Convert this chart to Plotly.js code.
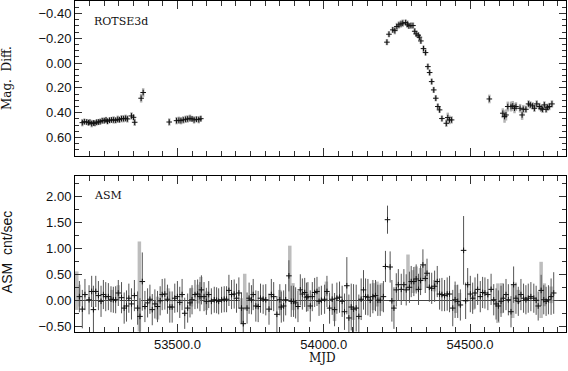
<!DOCTYPE html>
<html>
<head>
<meta charset="utf-8">
<script src="https://cdn.plot.ly/plotly-3.0.1.min.js"></script>
<style>
  html, body { margin: 0; padding: 0; background: #fff; }
  #chart { width: 568px; height: 371px; }
</style>
</head>
<body>
<div id="chart"></div>
<script>
// ROTSE3d light curve (magnitude difference, brighter = up)
const rotseMjd = [
  53175, 53182, 53190, 53196, 53201, 53207, 53213, 53218, 53224, 53230,
  53236, 53243, 53250, 53256, 53261, 53268, 53275, 53282, 53289, 53296,
  53302, 53309, 53316, 53323, 53329, 53343, 53350, 53354, 53376, 53383,
  53472, 53497, 53505, 53512, 53520, 53528, 53535, 53543, 53550, 53557,
  53565, 53573, 53580,
  54216, 54223, 54236, 54243, 54250, 54257, 54264, 54270, 54280, 54286,
  54291, 54298, 54305, 54311, 54316, 54323, 54327, 54332, 54341, 54348,
  54356, 54362, 54369, 54376, 54383, 54390, 54396, 54404, 54419, 54424,
  54430, 54437,
  54566, 54612, 54618, 54623, 54629, 54640, 54646, 54652, 54657, 54671,
  54678, 54682, 54691, 54700, 54706, 54714, 54720, 54728, 54737, 54743,
  54748, 54754, 54760, 54765, 54771, 54780
];
const rotseMag = [
  0.481, 0.473, 0.476, 0.481, 0.478, 0.489, 0.484, 0.486, 0.478, 0.476,
  0.473, 0.465, 0.465, 0.459, 0.470, 0.462, 0.459, 0.459, 0.462, 0.454,
  0.457, 0.449, 0.449, 0.446, 0.451, 0.427, 0.438, 0.478, 0.284, 0.238,
  0.476, 0.465, 0.462, 0.465, 0.459, 0.454, 0.451, 0.446, 0.451, 0.459,
  0.454, 0.457, 0.449,
  -0.168, -0.232, -0.267, -0.261, -0.294, -0.307, -0.315, -0.321, -0.326, -0.313,
  -0.299, -0.302, -0.302, -0.256, -0.235, -0.224, -0.208, -0.178, -0.116, -0.084,
  0.029, 0.077, 0.150, 0.217, 0.284, 0.351, 0.378, 0.448, 0.486, 0.440,
  0.459, 0.459,
  0.290, 0.405, 0.432, 0.419, 0.351, 0.351, 0.346, 0.365, 0.351, 0.365,
  0.419, 0.373, 0.373, 0.330, 0.338, 0.346, 0.365, 0.330, 0.351, 0.365,
  0.373, 0.338, 0.373, 0.357, 0.351, 0.330
];
const rotseErr = [
  0.030, 0.025, 0.025, 0.025, 0.025, 0.030, 0.025, 0.025, 0.025, 0.025,
  0.025, 0.025, 0.025, 0.025, 0.025, 0.025, 0.025, 0.030, 0.025, 0.030,
  0.025, 0.030, 0.030, 0.030, 0.030, 0.030, 0.025, 0.030, 0.035, 0.035,
  0.030, 0.030, 0.030, 0.030, 0.030, 0.030, 0.030, 0.030, 0.025, 0.030,
  0.025, 0.030, 0.025,
  0.025, 0.025, 0.025, 0.030, 0.030, 0.030, 0.030, 0.030, 0.025, 0.030,
  0.025, 0.025, 0.025, 0.025, 0.025, 0.025, 0.025, 0.025, 0.025, 0.025,
  0.025, 0.025, 0.025, 0.025, 0.025, 0.025, 0.025, 0.025, 0.030, 0.040,
  0.035, 0.030,
  0.035, 0.040, 0.050, 0.045, 0.040, 0.040, 0.040, 0.040, 0.035, 0.035,
  0.040, 0.035, 0.030, 0.030, 0.030, 0.030, 0.030, 0.030, 0.030, 0.030,
  0.030, 0.030, 0.030, 0.030, 0.030, 0.030
];

// RXTE/ASM count rate, main points with thin error bars
const asmMjd = [
  53165, 53175, 53184, 53198, 53207, 53213, 53221, 53230, 53239, 53247,
  53255, 53264, 53273, 53281, 53289, 53298, 53309, 53318, 53326, 53334,
  53343, 53353, 53364, 53372, 53380, 53389, 53398, 53406, 53414, 53423,
  53432, 53441, 53448, 53457, 53466, 53474, 53482, 53491, 53500, 53508,
  53516, 53525, 53535, 53543, 53550, 53560, 53569, 53577, 53582, 53591,
  53599, 53607, 53616, 53626, 53634, 53641, 53651, 53660, 53668, 53676,
  53685, 53694, 53702, 53710, 53719, 53725,
  53738, 53745, 53753, 53759, 53768, 53776, 53784, 53793, 53802, 53813,
  53821, 53829, 53840, 53850, 53855, 53863, 53870, 53881, 53889, 53897,
  53904, 53912, 53920, 53927, 53935, 53941, 53946, 53954, 53961, 53969,
  53977, 53984, 53992, 54003, 54011, 54020, 54029, 54037, 54045, 54054,
  54063, 54071, 54079, 54086, 54094, 54102, 54111, 54120, 54128, 54136,
  54143, 54151, 54159, 54168, 54177, 54185, 54193, 54204, 54211, 54218,
  54227, 54233, 54240, 54248, 54255,
  54265, 54274, 54282, 54293, 54299, 54308, 54316, 54324, 54331, 54339,
  54347, 54353, 54361, 54369, 54379, 54388, 54396, 54404, 54413, 54422,
  54430, 54441, 54449, 54458, 54467, 54478, 54485, 54492, 54501, 54509,
  54517, 54526, 54535, 54543, 54551, 54561, 54572, 54581, 54589, 54597,
  54606, 54614, 54623, 54631, 54640, 54649, 54657, 54665, 54674, 54683,
  54691, 54699, 54708, 54718, 54726, 54733, 54743, 54752, 54760, 54768,
  54777, 54786
];
const asmRate = [
  0.08, -0.16, 0.12, 0.02, 0.18, -0.17, 0.18, 0.10, -0.01, 0.12,
  0.08, 0.08, 0.03, 0.02, 0.02, 0.15, 0.06, -0.14, -0.10, 0.05,
  -0.06, 0.10, -0.14, -0.30, 0.37, -0.11, -0.04, 0.03, -0.17, -0.06,
  -0.11, 0.00, 0.12, 0.13, 0.03, -0.12, -0.12, 0.05, 0.08, -0.03,
  0.12, -0.24, -0.14, -0.04, 0.02, 0.12, 0.13, 0.08, 0.21, 0.08,
  -0.01, 0.12, -0.01, 0.02, 0.01, -0.01, 0.02, 0.03, 0.03, 0.20,
  0.12, 0.13, 0.05, 0.15, -0.14, -0.44,
  -0.14, 0.05, 0.02, 0.12, -0.10, -0.11, 0.05, 0.03, 0.02, -0.16,
  0.12, 0.08, -0.26, 0.02, -0.12, -0.10, 0.02, 0.48, -0.01, -0.01,
  -0.04, -0.11, 0.21, 0.13, 0.16, 0.07, 0.08, -0.10, 0.08, 0.16,
  0.18, -0.01, 0.01, 0.03, 0.18, -0.14, 0.03, -0.17, 0.05, 0.07,
  -0.01, -0.21, 0.29, -0.33, -0.12, -0.16, -0.14, -0.30, 0.03, 0.21,
  0.08, 0.07, 0.01, 0.08, 0.10, 0.01, 0.01, 0.08, 0.66, 1.56,
  0.65, 0.00, -0.14, 0.21, 0.31,
  0.22, 0.31, 0.21, 0.26, 0.37, 0.37, 0.42, 0.22, 0.39, 0.69,
  0.43, 0.53, 0.26, 0.24, 0.28, 0.37, 0.13, 0.12, 0.10, 0.13,
  0.13, -0.14, 0.02, -0.01, -0.08, 0.97, 0.00, 0.31, 0.13, 0.05,
  0.15, 0.22, 0.08, 0.16, 0.15, 0.12, 0.22, 0.02, -0.06, -0.10,
  -0.01, 0.05, 0.12, 0.02, -0.21, 0.31, 0.05, -0.01, 0.12, 0.05,
  0.02, 0.05, 0.08, 0.05, 0.01, -0.10, 0.20, 0.02, -0.01, 0.02,
  0.08, 0.15
];
const asmErr = [
  0.30, 0.37, 0.30, 0.28, 0.30, 0.46, 0.30, 0.28, 0.30, 0.28,
  0.28, 0.26, 0.25, 0.25, 0.26, 0.25, 0.30, 0.30, 0.30, 0.28,
  0.30, 0.30, 0.32, 0.35, 0.56, 0.30, 0.28, 0.28, 0.30, 0.28,
  0.30, 0.28, 0.30, 0.30, 0.28, 0.30, 0.30, 0.28, 0.30, 0.30,
  0.30, 0.30, 0.28, 0.28, 0.28, 0.28, 0.28, 0.28, 0.28, 0.28,
  0.26, 0.26, 0.25, 0.25, 0.25, 0.25, 0.25, 0.25, 0.25, 0.30,
  0.28, 0.28, 0.28, 0.30, 0.30, 0.30,
  0.30, 0.30, 0.28, 0.30, 0.30, 0.30, 0.28, 0.28, 0.30, 0.30,
  0.30, 0.28, 0.35, 0.30, 0.30, 0.30, 0.30, 0.30, 0.30, 0.30,
  0.30, 0.30, 0.30, 0.30, 0.28, 0.28, 0.28, 0.30, 0.28, 0.28,
  0.28, 0.28, 0.28, 0.28, 0.30, 0.30, 0.30, 0.32, 0.30, 0.30,
  0.30, 0.35, 0.55, 0.45, 0.45, 0.48, 0.45, 0.42, 0.40, 0.38,
  0.35, 0.35, 0.32, 0.32, 0.30, 0.30, 0.30, 0.30, 0.30, 0.27,
  0.30, 0.40, 0.40, 0.32, 0.30,
  0.30, 0.30, 0.30, 0.30, 0.30, 0.28, 0.28, 0.30, 0.28, 0.30,
  0.28, 0.28, 0.28, 0.30, 0.30, 0.30, 0.30, 0.32, 0.30, 0.32,
  0.35, 0.35, 0.35, 0.32, 0.30, 0.66, 0.35, 0.32, 0.35, 0.30,
  0.30, 0.30, 0.30, 0.30, 0.30, 0.30, 0.30, 0.30, 0.30, 0.30,
  0.30, 0.28, 0.30, 0.30, 0.30, 0.35, 0.30, 0.28, 0.30, 0.28,
  0.28, 0.28, 0.28, 0.28, 0.28, 0.28, 0.30, 0.28, 0.28, 0.28,
  0.35, 0.40
];

// ASM secondary points drawn as broad light grey bars
const asmGreyMjd = [
  53156, 53164, 53277, 53298, 53370, 53432, 53469, 53548, 53571, 53580,
  53599, 53719, 53730, 53850, 53884, 53895, 54009, 54037, 54100, 54170,
  54182, 54197, 54288, 54305, 54316, 54331, 54379, 54452, 54464, 54512,
  54595, 54608, 54646, 54665, 54743, 54754, 54777
];
const asmGreyRate = [
  0.195, 0.10, 0.10, 0.15, 0.276, -0.14, 0.13, 0.07, 0.13, 0.24,
  0.00, -0.19, 0.17, 0.02, 0.54, 0.08, 0.23, -0.17, -0.24, 0.08,
  0.13, 0.07, 0.55, 0.37, 0.42, 0.42, 0.29, 0.035, 0.02, -0.03,
  -0.045, 0.05, -0.01, 0.08, 0.21, 0.115, 0.115
];
const asmGreyErr = [
  0.37, 0.21, 0.11, 0.15, 0.865, 0.22, 0.11, 0.18, 0.18, 0.22,
  0.18, 0.24, 0.35, 0.19, 0.52, 0.26, 0.14, 0.22, 0.13, 0.26,
  0.24, 0.27, 0.34, 0.22, 0.24, 0.21, 0.11, 0.27, 0.13, 0.14,
  0.38, 0.29, 0.32, 0.13, 0.54, 0.22, 0.16
];

const xRange = [53150, 54828];
const sans = 'Liberation Sans, Arial, sans-serif';
const serif = 'DejaVu Serif, Liberation Serif, serif';

const data = [
  {
    type: 'scatter', mode: 'markers', xaxis: 'x2', yaxis: 'y2',
    x: rotseMjd, y: rotseMag,
    error_y: { type: 'data', array: rotseErr, color: '#b4b4b4', thickness: 2.5, width: 0 },
    marker: { symbol: 'cross-thin', size: 4, line: { width: 1, color: '#111' }, color: '#111' },
    hoverinfo: 'x+y'
  },
  {
    type: 'scatter', mode: 'markers', xaxis: 'x', yaxis: 'y',
    x: asmGreyMjd, y: asmGreyRate,
    error_y: { type: 'data', array: asmGreyErr, color: '#bdbdbd', thickness: 3.5, width: 0 },
    marker: { size: 1, color: 'rgba(0,0,0,0)' },
    hoverinfo: 'x+y'
  },
  {
    type: 'scatter', mode: 'markers', xaxis: 'x', yaxis: 'y',
    x: asmMjd, y: asmRate,
    error_y: { type: 'data', array: asmErr, color: '#555555', thickness: 1, width: 0 },
    marker: { symbol: 'cross-thin', size: 4, line: { width: 1, color: '#111' }, color: '#111' },
    hoverinfo: 'x+y'
  }
];

const tickFont = { family: sans, size: 13, color: '#111' };
const common = {
  showline: true, linecolor: '#000', linewidth: 1, mirror: 'allticks',
  ticks: 'inside', tickcolor: '#333', tickwidth: 1, showgrid: false,
  tickfont: tickFont
};

const layout = {
  width: 568, height: 371,
  margin: { l: 75, r: 2, t: 1, b: 39 },
  paper_bgcolor: '#fff', plot_bgcolor: '#fff',
  showlegend: false,
  xaxis: Object.assign({}, common, {
    anchor: 'y', range: xRange, tick0: 53500, dtick: 500, tickformat: '.1f',
    ticklen: 8, minor: { dtick: 50, ticklen: 5, tickcolor: '#333', ticks: 'inside' },
    zeroline: false
  }),
  xaxis2: Object.assign({}, common, {
    anchor: 'y2', matches: 'x', range: xRange, tick0: 53500, dtick: 500,
    showticklabels: false, ticklen: 8,
    minor: { dtick: 50, ticklen: 5, tickcolor: '#333', ticks: 'inside' },
    zeroline: false
  }),
  yaxis: Object.assign({}, common, {
    domain: [0, 0.4713], range: [-0.6, 2.4], tick0: 0, dtick: 0.5, tickformat: '.2f',
    ticklen: 7, minor: { dtick: 0.25, ticklen: 4, tickcolor: '#333', ticks: 'inside' },
    zeroline: true, zerolinecolor: '#444', zerolinewidth: 1
  }),
  yaxis2: Object.assign({}, common, {
    domain: [0.5317, 1], range: [0.75, -0.5], tick0: 0, dtick: 0.2, tickformat: '.2f',
    ticklen: 7, minor: { dtick: 0.05, ticklen: 4, tickcolor: '#333', ticks: 'inside' },
    zeroline: false
  }),
  annotations: [
    { text: 'ROTSE3d', xref: 'paper', yref: 'paper', x: 0.035, y: 0.938,
      xanchor: 'left', yanchor: 'middle', showarrow: false,
      font: { family: serif, size: 11, color: '#111' } },
    { text: 'ASM', xref: 'paper', yref: 'paper', x: 0.035, y: 0.411,
      xanchor: 'left', yanchor: 'middle', showarrow: false,
      font: { family: serif, size: 11, color: '#111' } },
    { text: 'Mag.  Diff.', xref: 'paper', yref: 'paper', x: -0.138, y: 0.768,
      xanchor: 'center', yanchor: 'middle', textangle: -90, showarrow: false,
      font: { family: serif, size: 12, color: '#111' } },
    { text: 'ASM  cnt/sec', xref: 'paper', yref: 'paper', x: -0.138, y: 0.242,
      xanchor: 'center', yanchor: 'middle', textangle: -90, showarrow: false,
      font: { family: sans, size: 14, color: '#111' } },
    { text: 'MJD', xref: 'paper', yref: 'paper', x: 0.505, y: -0.08,
      xanchor: 'center', yanchor: 'middle', showarrow: false,
      font: { family: serif, size: 12, color: '#111' } }
  ]
};

Plotly.newPlot('chart', data, layout, { displayModeBar: false, staticPlot: true });
</script>
</body>
</html>
